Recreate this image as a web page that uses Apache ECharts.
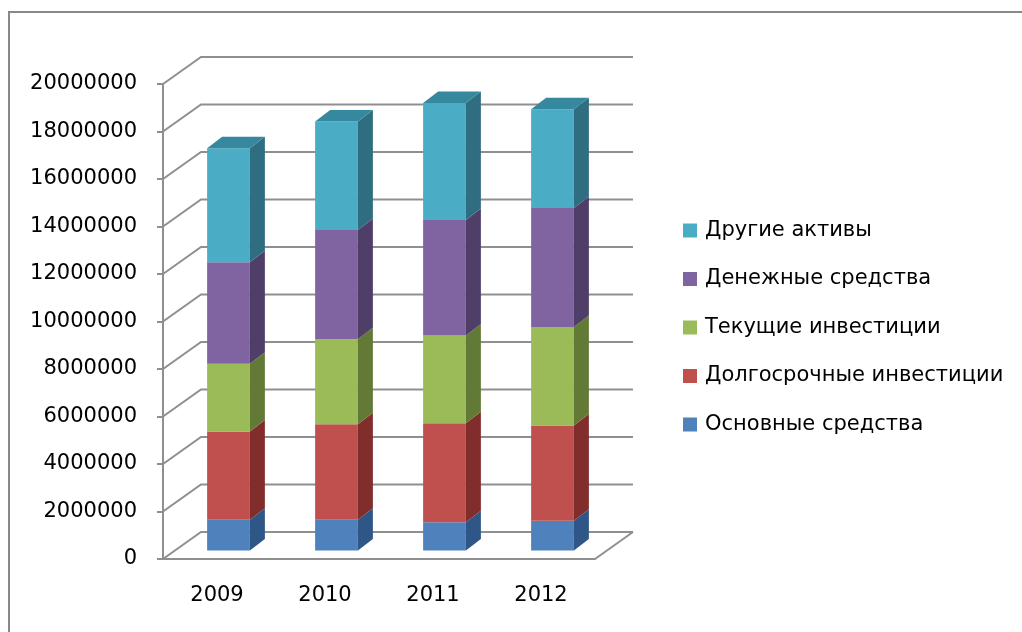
<!DOCTYPE html>
<html>
<head>
<meta charset="utf-8">
<script src="https://cdn.jsdelivr.net/npm/echarts@6/dist/echarts.min.js"></script>
<style>
  html, body { margin: 0; padding: 0; background: #fff; }
  #main { width: 1022px; height: 632px; }
</style>
</head>
<body>
<div id="main"></div>
<script>
  const years = ['2009', '2010', '2011', '2012']
  const seriesNames = ['Основные средства', 'Долгосрочные инвестиции', 'Текущие инвестиции', 'Денежные средства', 'Другие активы']
  const fixedAssets = [1290000, 1290000, 1190000, 1250000]
  const longInvest = [3720000, 4030000, 4170000, 4010000]
  const currentInvest = [2850000, 3580000, 3690000, 4150000]
  const cash = [4280000, 4600000, 4870000, 5010000]
  const otherAssets = [4800000, 4560000, 4920000, 4160000]
  const yTicks = [0, 2000000, 4000000, 6000000, 8000000, 10000000, 12000000, 14000000, 16000000, 18000000, 20000000]

  const frontColors = ['#4f81bd', '#c0504d', '#9bbb59', '#8064a2', '#4bacc6']
  const sideColors = ['#2e5686', '#812d2b', '#637a37', '#4f3e68', '#2f6e80']
  const topColor = '#36889e'
  const gridColor = '#8f8f8f'

  // 3d offsets (px)
  const WALL_DX = 38, WALL_DY = -27
  const BAR_DX = 11.5, BAR_DY = -8.5
  const DEPTH_DX = 15, DEPTH_DY = -11.5

  const values = [fixedAssets, longInvest, currentInvest, cash, otherAssets]

  function stackData (idx) {
    return years.map((y, i) => {
      let base = 0
      for (let k = 0; k < idx; k++) base += values[k][i]
      return [i, base, base + values[idx][i]]
    })
  }

  function renderWall (params, api) {
    const cs = params.coordSys
    const v = api.value(1)
    const y = api.coord([0, v])[1]
    const x0 = cs.x
    const x1 = cs.x + cs.width
    const style = { stroke: gridColor, lineWidth: 2, fill: null }
    const children = [{
      type: 'polyline',
      shape: { points: [[x0, y], [x0 + WALL_DX, y + WALL_DY], [x1 + WALL_DX, y + WALL_DY]] },
      style: style
    }]
    if (v === 0) {
      children.push({
        type: 'line',
        shape: { x1: x1, y1: y, x2: x1 + WALL_DX, y2: y + WALL_DY },
        style: style
      })
    }
    return { type: 'group', children: children }
  }

  function makeBarRenderer (idx, isTop) {
    return function (params, api) {
      const cat = api.value(0)
      const lo = api.coord([cat, api.value(1)])
      const hi = api.coord([cat, api.value(2)])
      const bw = api.size([1, 0])[0] * 0.396
      const xl = lo[0] - bw / 2 + BAR_DX
      const xr = xl + bw
      const yl = lo[1] + BAR_DY
      const yh = hi[1] + BAR_DY
      const children = [
        {
          type: 'rect',
          shape: { x: xl, y: yh, width: bw, height: yl - yh },
          style: { fill: frontColors[idx] }
        },
        {
          type: 'polygon',
          shape: { points: [[xr, yl], [xr + DEPTH_DX, yl + DEPTH_DY], [xr + DEPTH_DX, yh + DEPTH_DY], [xr, yh]] },
          style: { fill: sideColors[idx] }
        }
      ]
      if (isTop) {
        children.push({
          type: 'polygon',
          shape: { points: [[xl, yh], [xr, yh], [xr + DEPTH_DX, yh + DEPTH_DY], [xl + DEPTH_DX, yh + DEPTH_DY]] },
          style: { fill: topColor }
        })
      }
      return { type: 'group', children: children }
    }
  }

  const series = [{
    name: 'wall',
    type: 'custom',
    renderItem: renderWall,
    data: yTicks.map(v => [0, v]),
    encode: { x: 0, y: 1 },
    silent: true,
    z: 1
  }]
  seriesNames.forEach((name, idx) => {
    series.push({
      name: name,
      type: 'custom',
      renderItem: makeBarRenderer(idx, idx === seriesNames.length - 1),
      data: stackData(idx),
      encode: { x: 0, y: [1, 2] },
      itemStyle: { color: frontColors[idx] },
      z: 2 + idx
    })
  })

  const chart = echarts.init(document.getElementById('main'))
  chart.setOption({
    animation: false,
    textStyle: { fontFamily: 'DejaVu Sans' },
    graphic: [{
      type: 'rect',
      shape: { x: 9, y: 12, width: 1040, height: 660 },
      style: { fill: null, stroke: '#888', lineWidth: 2 },
      silent: true
    }],
    grid: { left: 163, top: 84, width: 432, height: 475 },
    legend: {
      data: seriesNames.slice().reverse(),
      orient: 'vertical',
      left: 683,
      top: 220,
      padding: 0,
      icon: 'rect',
      itemWidth: 14,
      itemHeight: 14,
      itemGap: 27.5,
      textStyle: { fontSize: 21, color: '#000', fontFamily: 'DejaVu Sans', padding: [0, 0, 0, 3] }
    },
    xAxis: {
      type: 'category',
      data: years,
      axisLine: { lineStyle: { color: gridColor, width: 2 } },
      axisTick: { length: 8, lineStyle: { color: gridColor, width: 2 } },
      axisLabel: { fontSize: 21, color: '#000', margin: 26 },
      splitLine: { show: false }
    },
    yAxis: {
      type: 'value',
      min: 0,
      max: 20000000,
      interval: 2000000,
      axisLine: { show: true, lineStyle: { color: gridColor, width: 2 } },
      axisTick: { show: true, length: 6, lineStyle: { color: gridColor, width: 2 } },
      axisLabel: { fontSize: 21, color: '#000', margin: 26, formatter: v => String(v) },
      splitLine: { show: false }
    },
    series: series
  })
</script>
</body>
</html>
